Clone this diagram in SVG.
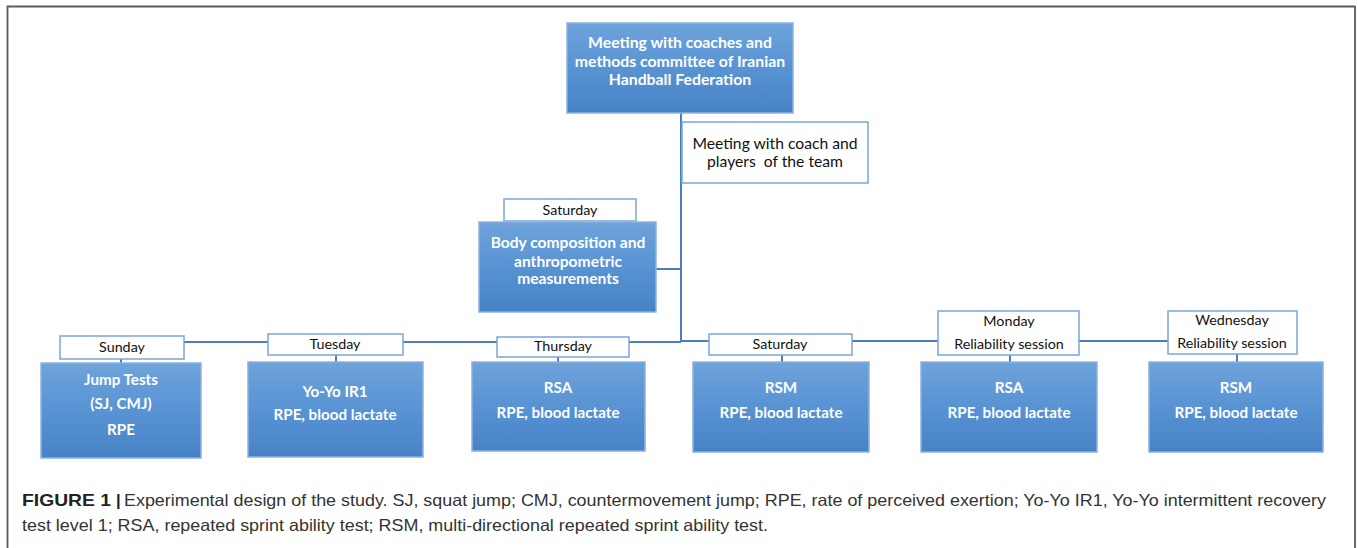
<svg xmlns="http://www.w3.org/2000/svg" width="1358" height="548" viewBox="0 0 1358 548">
<defs>
<linearGradient id="bg" x1="0" y1="0" x2="0" y2="1">
<stop offset="0" stop-color="#6fa3db"/>
<stop offset="0.5" stop-color="#5893d3"/>
<stop offset="1" stop-color="#4683c6"/>
</linearGradient>
<style>
.blue{fill:url(#bg);stroke:#8cb3e0;stroke-width:1.5}
.lab{fill:#ffffff;stroke:#7ba7d9;stroke-width:1.5}
.bt{font-family:Lato,"Liberation Sans",sans-serif;font-weight:bold;fill:#ffffff;text-anchor:middle;font-size:15.2px}
.lt{font-family:Lato,"Liberation Sans",sans-serif;fill:#111111;text-anchor:middle;font-size:14.3px}
.conn{stroke:#4a7fbf;stroke-width:2;fill:none}
.cap{font-family:"Liberation Sans",Arial,sans-serif;font-size:16.5px;fill:#333333}
</style>
</defs>
<rect width="1358" height="548" fill="#ffffff"/>
<path d="M7.5,548 V6.5 H1355 V548" fill="none" stroke="#5a5a5a" stroke-width="1.8"/>

<g id="connectors" class="conn">
<path d="M681,113 V342"/>
<path d="M184,342 H681"/>
<path d="M681,341 H1168"/>
<path d="M656,269 H681"/>
<path d="M121,358 V363"/>
<path d="M336,355 V362"/>
<path d="M558,357 V362"/>
<path d="M782,355 V362"/>
<path d="M1010,355 V362"/>
<path d="M1237,354 V362"/>
</g>

<g id="n-federation">
<rect class="blue" x="567" y="23" width="226" height="90"/>
<text class="bt" x="680" y="48" style="font-size:15.8px">Meeting with coaches and</text>
<text class="bt" x="680" y="67" style="font-size:15.8px">methods committee of Iranian</text>
<text class="bt" x="680" y="85" style="font-size:15.8px">Handball Federation</text>
</g>

<g id="n-team">
<rect class="lab" x="682" y="122" width="186" height="61"/>
<text class="lt" x="775" y="149" style="font-size:15.7px">Meeting with coach and</text>
<text class="lt" x="775" y="167" style="font-size:15.7px">players&#160; of the team</text>
</g>

<g id="n-body">
<rect class="lab" x="504" y="199" width="132" height="22"/>
<text class="lt" x="570" y="215">Saturday</text>
<rect class="blue" x="479" y="222" width="177" height="90"/>
<text class="bt" x="568" y="248" style="font-size:15.6px">Body composition and</text>
<text class="bt" x="568" y="267" style="font-size:15.6px">anthropometric</text>
<text class="bt" x="568" y="284" style="font-size:15.6px">measurements</text>
</g>

<g id="n-sunday">
<rect class="lab" x="60" y="336" width="124" height="23"/>
<text class="lt" x="122" y="352">Sunday</text>
<rect class="blue" x="41" y="363" width="160" height="95"/>
<text class="bt" x="121" y="385">Jump Tests</text>
<text class="bt" x="121" y="409">(SJ, CMJ)</text>
<text class="bt" x="121" y="435">RPE</text>
</g>

<g id="n-tuesday">
<rect class="lab" x="268" y="334" width="135" height="21"/>
<text class="lt" x="335" y="349">Tuesday</text>
<rect class="blue" x="248" y="362" width="175" height="95"/>
<text class="bt" x="335" y="397">Yo-Yo IR1</text>
<text class="bt" x="335" y="420">RPE, blood lactate</text>
</g>

<g id="n-thursday">
<rect class="lab" x="497" y="337" width="132" height="20"/>
<text class="lt" x="563" y="351">Thursday</text>
<rect class="blue" x="472" y="362" width="173" height="89"/>
<text class="bt" x="558" y="393">RSA</text>
<text class="bt" x="558" y="418">RPE, blood lactate</text>
</g>

<g id="n-saturday">
<rect class="lab" x="709" y="334" width="143" height="21"/>
<text class="lt" x="780" y="349">Saturday</text>
<rect class="blue" x="693" y="362" width="176" height="90"/>
<text class="bt" x="781" y="393">RSM</text>
<text class="bt" x="781" y="418">RPE, blood lactate</text>
</g>

<g id="n-monday">
<rect class="lab" x="938" y="311" width="141" height="44"/>
<text class="lt" x="1009" y="326">Monday</text>
<text class="lt" x="1009" y="349">Reliability session</text>
<rect class="blue" x="921" y="362" width="176" height="90"/>
<text class="bt" x="1009" y="393">RSA</text>
<text class="bt" x="1009" y="418">RPE, blood lactate</text>
</g>

<g id="n-wednesday">
<rect class="lab" x="1168" y="311" width="129" height="43"/>
<text class="lt" x="1232" y="325">Wednesday</text>
<text class="lt" x="1232" y="348">Reliability session</text>
<rect class="blue" x="1149" y="362" width="174" height="90"/>
<text class="bt" x="1236" y="393">RSM</text>
<text class="bt" x="1236" y="418">RPE, blood lactate</text>
</g>

<g id="caption">
<text class="cap" x="22" y="506" style="font-weight:bold;fill:#222222" textLength="89" lengthAdjust="spacingAndGlyphs">FIGURE 1</text>
<text class="cap" x="116" y="506" style="font-weight:bold;fill:#222222">|</text>
<text class="cap" x="124" y="506" textLength="1202" lengthAdjust="spacingAndGlyphs">Experimental design of the study. SJ, squat jump; CMJ, countermovement jump; RPE, rate of perceived exertion; Yo-Yo IR1, Yo-Yo intermittent recovery</text>
<text class="cap" x="22" y="531" textLength="746" lengthAdjust="spacingAndGlyphs">test level 1; RSA, repeated sprint ability test; RSM, multi-directional repeated sprint ability test.</text>
</g>
</svg>
